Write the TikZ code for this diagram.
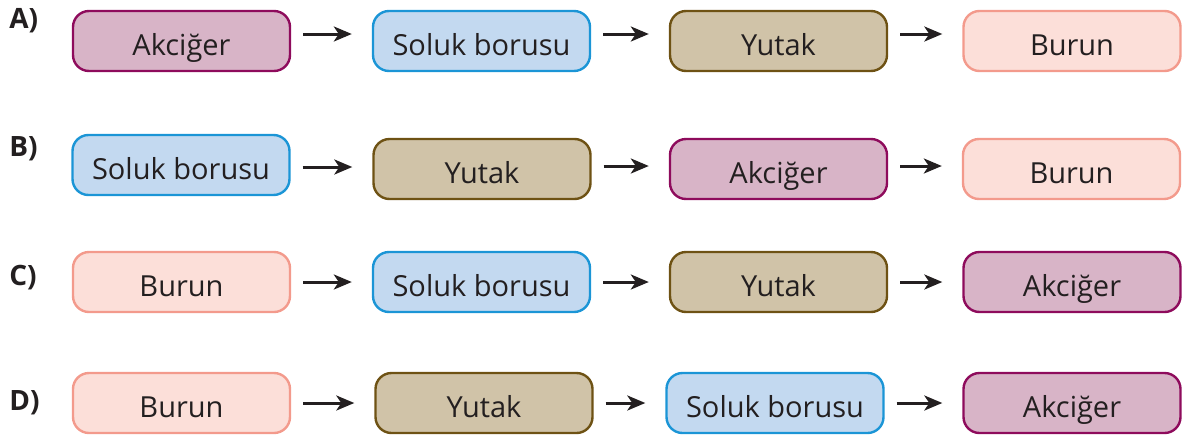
\documentclass[tikz,border=0pt]{standalone}
\usepackage{fontspec}
\setmainfont{Open Sans}
\usetikzlibrary{arrows.meta}

\definecolor{lungfill}{HTML}{D8B4C7}
\definecolor{lungdraw}{HTML}{8E0B5C}
\definecolor{tracheafill}{HTML}{C3D9F0}
\definecolor{tracheadraw}{HTML}{1B95D6}
\definecolor{pharynxfill}{HTML}{D0C3A8}
\definecolor{pharynxdraw}{HTML}{6E5214}
\definecolor{nosefill}{HTML}{FCDFD9}
\definecolor{nosedraw}{HTML}{F39A8C}
\definecolor{ink}{HTML}{231F20}

\begin{document}
\begin{tikzpicture}[x=0.5pt, y=-0.5pt,
        organ/.style={rounded corners=8pt, line width=1.2pt, minimum width=108.5pt,
            minimum height=30pt, inner sep=0pt, text height=16pt, text depth=1.5pt,
            text=ink, font=\fontsize{14.5}{16}\selectfont},
        lung/.style={organ, fill=lungfill, draw=lungdraw},
        trachea/.style={organ, fill=tracheafill, draw=tracheadraw},
        pharynx/.style={organ, fill=pharynxfill, draw=pharynxdraw},
        nose/.style={organ, fill=nosefill, draw=nosedraw},
        choice/.style={anchor=west, inner sep=0pt, text=ink, font=\fontsize{14}{16}\selectfont\bfseries},
        arr/.style={-{Stealth[length=9pt, width=7.5pt, inset=2.5pt]}, line width=1.5pt, ink,
            shorten <=6pt, shorten >=10pt}]
    \useasboundingbox (0,0) rectangle (1182,434);

    % A)
    \node[choice] (la) at (9,21) {A)};
    \node[lung] (a1) at (181.5,41) {Akciğer};
    \node[trachea] (a2) at (481.5,41) {Soluk borusu};
    \node[pharynx] (a3) at (778.5,41) {Yutak};
    \node[nose] (a4) at (1072,41) {Burun};
    \draw[arr] ([yshift=3.5pt]a1.east) -- ([yshift=3.5pt]a2.west);
    \draw[arr] ([yshift=3.5pt]a2.east) -- ([yshift=3.5pt]a3.west);
    \draw[arr] ([yshift=3.5pt]a3.east) -- ([yshift=3.5pt]a4.west);

    % B)
    \node[choice] (lb) at (9,149) {B)};
    \node[trachea] (b1) at (181,165) {Soluk borusu};
    \node[pharynx] (b2) at (482,169) {Yutak};
    \node[lung] (b3) at (778.5,169) {Akciğer};
    \node[nose] (b4) at (1071.5,169) {Burun};
    \draw[arr] ([yshift=-1pt]b1.east) -- ([yshift=-1pt]b1.east -| b2.west);
    \draw[arr] ([yshift=1.5pt]b2.east) -- ([yshift=1.5pt]b3.west);
    \draw[arr] ([yshift=1.5pt]b3.east) -- ([yshift=1.5pt]b4.west);

    % C)
    \node[choice] (lc) at (9,278) {C)};
    \node[nose] (c1) at (181.5,282) {Burun};
    \node[trachea] (c2) at (481.5,282) {Soluk borusu};
    \node[pharynx] (c3) at (778.5,282) {Yutak};
    \node[lung] (c4) at (1072,282) {Akciğer};
    \draw[arr] (c1) -- (c2);
    \draw[arr] (c2) -- (c3);
    \draw[arr] (c3) -- (c4);

    % D)
    \node[choice] (ld) at (9,403) {D)};
    \node[nose] (d1) at (181.5,403) {Burun};
    \node[pharynx] (d2) at (484,403) {Yutak};
    \node[trachea] (d3) at (775,403) {Soluk borusu};
    \node[lung] (d4) at (1072,403) {Akciğer};
    \draw[arr] (d1) -- (d2);
    \draw[arr] (d2) -- (d3);
    \draw[arr] (d3) -- (d4);
\end{tikzpicture}
\end{document}
